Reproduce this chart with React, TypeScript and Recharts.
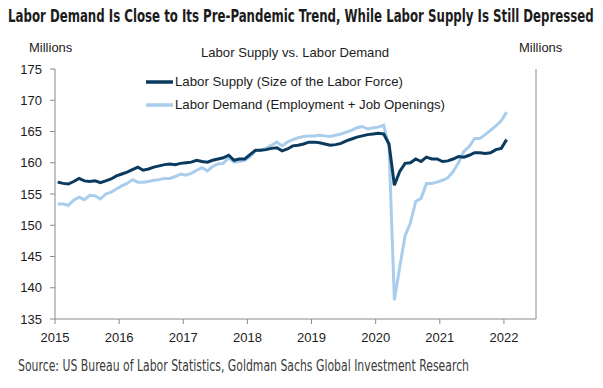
import { useLayoutEffect, useRef, useState } from "react"
import { CartesianGrid, Line, LineChart, XAxis, YAxis } from "recharts"

// monthly, Jan 2015 - Jan 2022 (millions)
const START_YEAR = 2015

const laborSupply = [
  156.9, 156.7, 156.6, 157.0, 157.5, 157.1, 157.0, 157.1, 156.8, 157.1, 157.4, 157.9,
  158.2, 158.5, 158.9, 159.3, 158.8, 159.0, 159.3, 159.5, 159.7, 159.8, 159.7, 159.9,
  160.0, 160.1, 160.4, 160.2, 160.1, 160.4, 160.6, 160.8, 161.2, 160.4, 160.6, 160.6,
  161.3, 162.0, 162.0, 162.1, 162.3, 162.4, 161.9, 162.2, 162.7, 162.8, 163.0, 163.3,
  163.3, 163.2, 163.0, 162.8, 162.9, 163.1, 163.5, 163.8, 164.1, 164.3, 164.5, 164.6,
  164.7, 164.6, 163.0, 156.4, 158.6, 159.9, 160.0, 160.6, 160.2, 160.9, 160.6, 160.6,
  160.2, 160.3, 160.6, 161.0, 160.9, 161.2, 161.6, 161.6, 161.5, 161.6, 162.1, 162.3,
  163.7,
]

const laborDemand = [
  153.4, 153.4, 153.2, 154.0, 154.5, 154.1, 154.8, 154.7, 154.2, 155.0, 155.3, 155.8,
  156.3, 156.7, 157.3, 156.9, 156.9, 157.0, 157.2, 157.3, 157.5, 157.5, 157.8, 158.2,
  158.0, 158.3, 158.8, 159.2, 158.7, 159.4, 159.8, 159.9, 160.8, 160.1, 160.2, 160.4,
  161.0, 161.9, 162.0, 162.3, 162.8, 163.3, 162.7, 163.3, 163.7, 164.0, 164.2, 164.3,
  164.3, 164.4, 164.3, 164.2, 164.4, 164.6, 164.9, 165.2, 165.6, 165.8, 165.4, 165.6,
  165.7, 166.0, 162.5, 138.0, 143.3, 148.3, 150.4, 153.8, 154.3, 156.7, 156.7, 156.9,
  157.2, 157.6, 158.6, 160.0, 161.8, 162.6, 163.9, 163.9, 164.5, 165.2, 165.9, 166.7,
  168.1,
]

const yearTicks = [2015, 2016, 2017, 2018, 2019, 2020, 2021, 2022]
const valueTicks = [135, 140, 145, 150, 155, 160, 165, 170, 175]

const TITLE = "Labor Demand Is Close to Its Pre-Pandemic Trend, While Labor Supply Is Still Depressed"

const DARK = "#0b3a5f"
const LIGHT = "#a9cdec"
const AXIS = "#8a8a8a"
const INK = "#1c1c1c"

// points are plotted at mid-month
const data = laborSupply.map((v, i) => ({
  t: START_YEAR + (i + 0.5) / 12,
  supply: v,
  demand: laborDemand[i],
}))

const tickStyle = { fill: INK, fontSize: 13, fontFamily: "Liberation Sans, Arial, sans-serif" }
const narrow = "Liberation Sans Narrow, DejaVu Sans Condensed, sans-serif"

// squeeze the title horizontally so it spans the same width as the original
function Title() {
  const ref = useRef<HTMLDivElement>(null)
  const [scale, setScale] = useState(1)
  useLayoutEffect(() => {
    const w = ref.current?.scrollWidth ?? 0
    if (w > 0) setScale(586 / w)
  }, [])
  return (
    <div
      ref={ref}
      style={{
        position: "absolute",
        left: 8,
        top: 5,
        whiteSpace: "nowrap",
        fontFamily: narrow,
        fontWeight: "bold",
        fontSize: 17,
        lineHeight: "22px",
        color: INK,
        transform: `scaleX(${scale})`,
        transformOrigin: "left top",
      }}
    >
      {TITLE}
    </div>
  )
}

export default function App() {
  return (
    <div style={{ position: "absolute", left: 0, top: 0, width: 603, height: 388, background: "#fff", overflow: "hidden" }}>
      <LineChart width={603} height={388} data={data} margin={{ top: 69, right: 0, bottom: 0, left: 0 }}>
        <CartesianGrid horizontal={false} vertical={false} />
        <XAxis
          dataKey="t"
          type="number"
          domain={[2015, 2022.5]}
          ticks={yearTicks}
          allowDataOverflow
          height={69}
          tickSize={5}
          tickMargin={9}
          stroke={AXIS}
          tick={tickStyle}
          tickLine={{ stroke: AXIS }}
        />
        <YAxis
          yAxisId="left"
          orientation="left"
          domain={[135, 175]}
          ticks={valueTicks}
          width={55}
          tickSize={5}
          tickMargin={8}
          stroke={AXIS}
          tick={tickStyle}
          tickLine={{ stroke: AXIS }}
        />
        <YAxis
          yAxisId="right"
          orientation="right"
          domain={[135, 175]}
          ticks={valueTicks}
          width={67}
          tickSize={5}
          tickMargin={7}
          stroke={AXIS}
          tick={tickStyle}
          tickLine={{ stroke: AXIS }}
        />
        <Line
          yAxisId="left"
          dataKey="demand"
          stroke={LIGHT}
          strokeWidth={3}
          dot={false}
          type="linear"
          isAnimationActive={false}
        />
        <Line
          yAxisId="left"
          dataKey="supply"
          stroke={DARK}
          strokeWidth={3}
          dot={false}
          type="linear"
          isAnimationActive={false}
        />
      </LineChart>

      <Title />

      <svg
        width={603}
        height={388}
        style={{ position: "absolute", left: 0, top: 0, pointerEvents: "none" }}
        fontFamily="Liberation Sans, Arial, sans-serif"
      >
        <text x={29} y={52} fontSize={13} fill={INK}>Millions</text>
        <text x={519} y={52} fontSize={13} fill={INK}>Millions</text>
        <text x={201} y={57} fontSize={13} fill={INK} textLength={188} lengthAdjust="spacingAndGlyphs">
          Labor Supply vs. Labor Demand
        </text>

        <line x1={146} y1={82} x2={173} y2={82} stroke={DARK} strokeWidth={3.5} />
        <text x={175} y={86} fontSize={13.5} fill={INK} textLength={228} lengthAdjust="spacingAndGlyphs">
          Labor Supply (Size of the Labor Force)
        </text>
        <line x1={146} y1={105} x2={173} y2={105} stroke={LIGHT} strokeWidth={3.5} />
        <text x={175} y={109} fontSize={13.5} fill={INK} textLength={270} lengthAdjust="spacingAndGlyphs">
          Labor Demand (Employment + Job Openings)
        </text>

        <text
          x={18}
          y={371}
          fontSize={15}
          fontFamily={narrow}
          fill="#3a3a3a"
          textLength={451}
          lengthAdjust="spacingAndGlyphs"
        >
          Source: US Bureau of Labor Statistics, Goldman Sachs Global Investment Research
        </text>
      </svg>
    </div>
  )
}
